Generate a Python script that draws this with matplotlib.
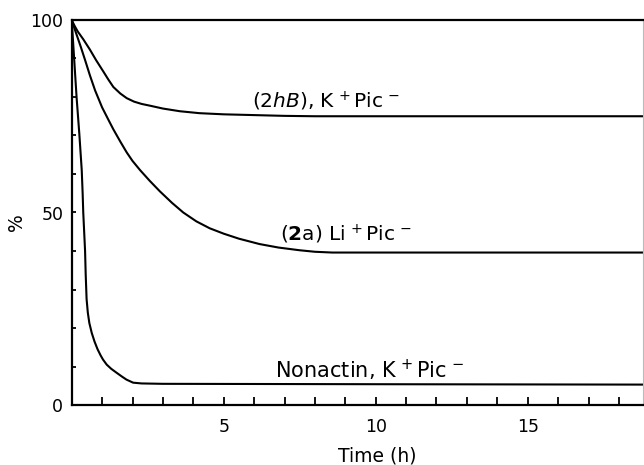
import matplotlib
matplotlib.use("Agg")
import matplotlib.pyplot as plt

# --- data ---
t_2hB = [0, 0.1, 0.2, 0.38, 0.6, 0.8, 1.05, 1.2, 1.37, 1.6, 1.81, 2.05, 2.3, 2.6, 3.0,
         3.56, 4.2, 5.0, 6.0, 7.0, 8.0, 18.8]
y_2hB = [100, 98.4, 97.0, 95.0, 92.3, 89.6, 86.5, 84.6, 82.6, 80.9, 79.7, 78.8, 78.2,
         77.7, 77.0, 76.3, 75.8, 75.5, 75.3, 75.1, 75.0, 75.0]

t_2a = [0, 0.1, 0.2, 0.3, 0.44, 0.6, 0.77, 1.0, 1.2, 1.37, 1.6, 1.81, 2.0, 2.25, 2.57, 2.9,
        3.3, 3.67, 4.1, 4.54, 5.0, 5.5, 6.18, 6.8, 7.49, 8.0, 8.57, 18.8]
y_2a = [100, 97.6, 95.3, 93.0, 89.6, 85.6, 81.7, 77.3, 74.2, 71.6, 68.4, 65.6, 63.4, 61.0,
        58.2, 55.5, 52.5, 50.0, 47.7, 45.9, 44.5, 43.2, 41.8, 40.9, 40.2, 39.8, 39.6, 39.6]

t_non = [0, 0.08, 0.16, 0.25, 0.33, 0.36, 0.38, 0.41, 0.44, 0.46, 0.49, 0.53, 0.58, 0.66,
         0.75, 0.85, 0.95, 1.03, 1.15, 1.3, 1.49, 1.65, 1.8, 2.02, 2.3, 3.0, 10.0, 18.8]
y_non = [100, 90.0, 80.0, 70.5, 61.0, 55.0, 50.0, 45.0, 40.0, 34.0, 27.5, 24.0, 21.3, 18.7,
         16.5, 14.5, 12.9, 11.8, 10.5, 9.4, 8.3, 7.4, 6.6, 5.8, 5.6, 5.5, 5.4, 5.3]

x_ticks = list(range(1, 19))
x_labels = ["" if v % 5 else str(v) for v in x_ticks]
y_ticks = list(range(0, 101, 10))
y_labels = [str(v) if v % 50 == 0 else "" for v in y_ticks]

label_2hB = r"($\it{2hB}$), K$^{\,+}$Pic$^{\,-}$"
label_2a = r"($\mathbf{2}$a) Li$^{\,+}$Pic$^{\,-}$"
label_non = r"Nonactin, K$^{\,+}$Pic$^{\,-}$"

plt.rcParams['font.family'] = ['DejaVu Sans']
plt.rcParams['mathtext.fontset'] = 'dejavusans'

fig = plt.figure(figsize=(6.44, 4.65), dpi=100)
ax = fig.add_axes([71.7 / 644, 60 / 465, (643 - 71.7) / 644, 385 / 465])

lw = 1.5
ax.plot(t_2hB, y_2hB, color='black', lw=lw, solid_joinstyle='round')
ax.plot(t_2a, y_2a, color='black', lw=lw, solid_joinstyle='round')
ax.plot(t_non, y_non, color='black', lw=lw, solid_joinstyle='round')

ax.set_xlim(0, (643 - 71.7) / 30.4)
ax.set_ylim(0, 100)

ax.set_xticks(x_ticks)
ax.set_xticklabels(x_labels)
ax.set_yticks(y_ticks)
ax.set_yticklabels(y_labels)

ax.tick_params(axis='x', direction='in', length=6, width=1.3, labelsize=12.5, pad=9, top=False)
ax.tick_params(axis='y', direction='in', length=3, width=1.3, labelsize=12.5, pad=6, right=False)

for s in ['left', 'bottom', 'top']:
    ax.spines[s].set_linewidth(1.6)
    ax.spines[s].set_color('black')
ax.spines['right'].set_linewidth(0.8)
ax.spines['right'].set_color('#bbbbbb')

ax.set_xlabel("Time (h)", fontsize=13.5)
ax.xaxis.set_label_coords((377 - 71.7) / 571.3, (405 - 446) / 385)
ax.set_ylabel("%", fontsize=13.5)
ax.yaxis.set_label_coords((26 - 71.7) / 571.3, (405 - 222) / 385)

ax.text(5.93, 78.8, label_2hB, fontsize=14.5, va='center', ha='left')
ax.text(6.85, 44.2, label_2a, fontsize=14.5, va='center', ha='left')
ax.text(6.69, 9.0, label_non, fontsize=15, va='center', ha='left')

fig.savefig("out.png", dpi=100)
